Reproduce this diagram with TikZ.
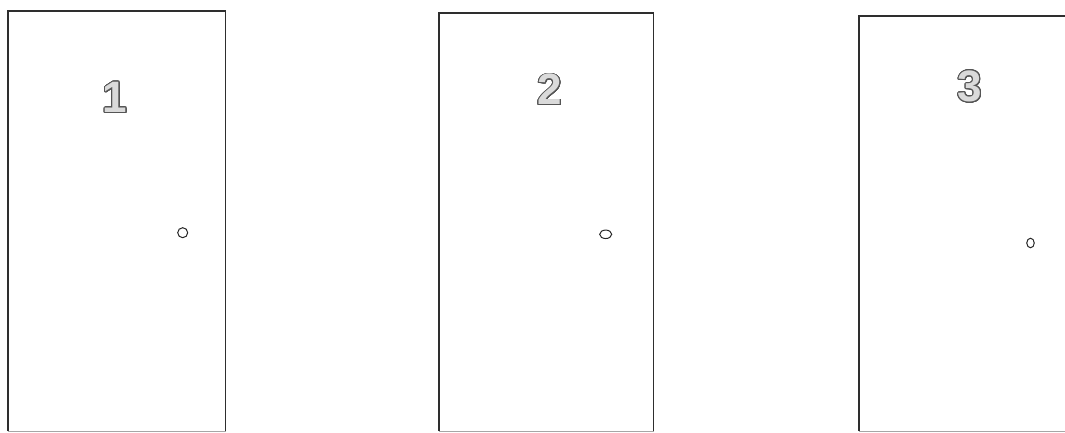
\documentclass[tikz,border=0pt]{standalone}
\usepackage{fontspec}
\setmainfont{Liberation Sans}
\usepackage{contour}
\contourlength{0.9pt}
\contournumber{32}
\usetikzlibrary{shapes.geometric}
\definecolor{doorline}{HTML}{2E2E2E}
\definecolor{digitline}{HTML}{555555}
\definecolor{digitfill}{HTML}{DADADA}
\newcommand{\doordigit}[1]{\contour{digitline}{\textcolor{digitfill}{#1}}}
\begin{document}
\begin{tikzpicture}[x=1pt,y=-1pt,
  doorside/.style={draw=doorline,line width=1.5pt},
  doorbottom/.style={draw=black!35,line width=1pt},
  digit/.style={inner sep=0pt,font=\bfseries\fontsize{44}{44}\selectfont},
  knob/.style={draw=black!85,line width=1pt,fill=white}]
\useasboundingbox (0,0) rectangle (1065,432);
\clip (0,0) rectangle (1065,432);
% door 1
\coordinate (d1tl) at (8,11);
\coordinate (d1br) at (225.5,431);
\draw[doorbottom] (8,431) -- (225.5,431);
\draw[doorside] (8,431) |- (d1tl) -| (d1br);
\node[digit] (n1) at (115,98) {\doordigit{1}};
\node[knob,circle,minimum size=10pt,inner sep=0pt] (k1) at (182.7,232.7) {};
% door 2
\coordinate (d2tl) at (439,13);
\coordinate (d2br) at (653.5,431);
\draw[doorbottom] (439,431) -- (653.5,431);
\draw[doorside] (439,431) |- (d2tl) -| (d2br);
\node[digit] (n2) at (550,90) {\doordigit{2}};
\node[knob,ellipse,minimum width=12pt,minimum height=8.5pt,inner sep=0pt] (k2) at (605.7,234.3) {};
% door 3
\coordinate (d3tl) at (859,16);
\draw[doorbottom] (859,431) -- (1070,431);
\draw[doorside] (859,431) |- (1070,16);
\node[digit] (n3) at (970,87) {\doordigit{3}};
\node[knob,ellipse,minimum width=7.5pt,minimum height=9.5pt,inner sep=0pt] (k3) at (1030.5,243) {};
\end{tikzpicture}
\end{document}
